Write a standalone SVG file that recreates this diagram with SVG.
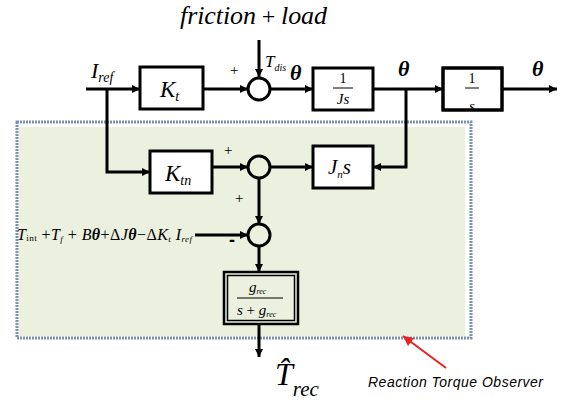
<svg xmlns="http://www.w3.org/2000/svg" width="564" height="400" viewBox="0 0 564 400">
<defs>
<marker id="ah" viewBox="0 0 10 10" refX="10" refY="5" markerWidth="10" markerHeight="8" markerUnits="userSpaceOnUse" orient="auto">
<path d="M0,0 L10,5 L0,10 z" fill="#000"/>
</marker>
<marker id="ahr" viewBox="0 0 10 10" refX="10" refY="5" markerWidth="12" markerHeight="10" markerUnits="userSpaceOnUse" orient="auto">
<path d="M0,0 L10,5 L0,10 z" fill="#e8231e"/>
</marker>
<clipPath id="c1s"><rect x="443" y="68" width="59" height="41"/></clipPath>
</defs>
<style>
.blk{fill:#fff;stroke:#000;stroke-width:3}
.sum{fill:none;stroke:#000;stroke-width:3}
.ln{fill:none;stroke:#000;stroke-width:3}
text{font-family:'Liberation Serif','Times New Roman',serif;fill:#000}
.m{font-style:italic}
.sg{font-family:'Liberation Sans',Arial,sans-serif}
</style>
<rect width="564" height="400" fill="#fff"/>
<g id="observer-region">
<rect x="19" y="127" width="446" height="209" fill="#ebf1de"/>
<rect x="17" y="122" width="454" height="216" fill="none" stroke="#7b91b1" stroke-width="3" stroke-dasharray="2 1"/>
</g>
<g id="title"><text class="m" x="180" y="24" font-size="26" textLength="147">friction<tspan font-style="normal" font-size="24"> + </tspan>load</text></g>
<g id="connectors">
<path class="ln" d="M86,89 H140" marker-end="url(#ah)"/>
<path class="ln" d="M203,89 H248" marker-end="url(#ah)"/>
<path class="ln" d="M259,40 V77" marker-end="url(#ah)"/>
<path class="ln" d="M270,89 H313" marker-end="url(#ah)"/>
<path class="ln" d="M373,89 H443" marker-end="url(#ah)"/>
<path class="ln" d="M502,89 H557" marker-end="url(#ah)"/>
<path class="ln" d="M406,89 V167 H373" marker-end="url(#ah)"/>
<path class="ln" d="M107,89 V172 H150" marker-end="url(#ah)"/>
<path class="ln" d="M212,167 H248" marker-end="url(#ah)"/>
<path class="ln" d="M270,167 H313" marker-end="url(#ah)"/>
<path class="ln" d="M259,178 V224" marker-end="url(#ah)"/>
<path class="ln" d="M195,235 H248" marker-end="url(#ah)"/>
<path class="ln" d="M259,246 V272" marker-end="url(#ah)"/>
<path class="ln" d="M259,324 V357" marker-end="url(#ah)"/>
<path d="M446,368 L403,336" stroke="#e8231e" stroke-width="2" fill="none" marker-end="url(#ahr)"/>
</g>
<g id="labels">
<text class="m" x="91" y="78" font-size="22">I<tspan font-size="14" dy="4">ref</tspan></text>
<text x="230" y="75" font-size="15">+</text>
<text class="m" x="265" y="67" font-size="17">T<tspan font-size="10" dy="4">dis</tspan></text>
<text class="m" x="290" y="80" font-size="22" font-weight="bold">θ</text>
<text class="m" x="398" y="76" font-size="22" font-weight="bold">θ</text>
<text class="m" x="532" y="76" font-size="22" font-weight="bold">θ</text>
<text x="224" y="155" font-size="15">+</text>
<text x="235" y="203" font-size="15">+</text>
<text class="sg" x="229" y="246" font-size="18" font-weight="bold">-</text>
<text class="m" x="17" y="240" font-size="16" textLength="175">T<tspan font-size="9" dy="1" font-style="normal">int</tspan><tspan dy="-1" font-style="normal"> +</tspan>T<tspan font-size="9" dy="2">f</tspan><tspan dy="-2" font-style="normal"> + </tspan>B<tspan font-weight="bold">θ</tspan><tspan font-style="normal">+Δ</tspan>J<tspan font-weight="bold">θ</tspan><tspan font-style="normal">−Δ</tspan>K<tspan font-size="9" dy="2">t</tspan><tspan dy="-2"> I</tspan><tspan font-size="9" dy="2">ref</tspan></text>
<text class="m" x="275" y="385" font-size="32">T&#x302;<tspan font-size="21" dy="11">rec</tspan></text>
<text class="sg" x="368" y="387" font-size="14" font-style="italic" textLength="175" fill="#222">Reaction Torque Observer</text>
</g>
<g id="Kt">
<rect class="blk" x="140" y="67" width="63" height="42"/>
<text class="m" x="160" y="97" font-size="23">K<tspan font-size="14" dy="4">t</tspan></text>
</g>
<g id="sum1"><circle class="sum" cx="259" cy="89" r="11" fill="#fff"/></g>
<g id="inv-Js">
<rect class="blk" x="313" y="68" width="60" height="42"/>
<text x="343" y="83" font-size="14" text-anchor="middle">1</text>
<line x1="333" y1="88" x2="353" y2="88" stroke="#000" stroke-width="1"/>
<text class="m" x="343" y="104" font-size="15" text-anchor="middle">Js</text>
</g>
<g id="inv-s">
<rect class="blk" x="443" y="68" width="59" height="42"/>
<text x="472" y="83" font-size="14" text-anchor="middle">1</text>
<line x1="465" y1="88" x2="479" y2="88" stroke="#000" stroke-width="1"/>
<text class="m" x="472" y="111" font-size="15" text-anchor="middle" clip-path="url(#c1s)">s</text>
<rect x="443" y="68" width="59" height="42" fill="none" stroke="#000" stroke-width="3"/>
</g>
<g id="Ktn">
<rect class="blk" x="150" y="151" width="62" height="42" fill="#ebf1de"/>
<text class="m" x="165" y="181" font-size="23">K<tspan font-size="14" dy="4">tn</tspan></text>
</g>
<g id="sum2"><circle class="sum" cx="259" cy="167" r="11"/></g>
<g id="Jns">
<rect class="blk" x="313" y="146" width="60" height="42" fill="#ebf1de"/>
<text class="m" x="328" y="174" font-size="21">J<tspan font-size="11" dy="4">n</tspan><tspan dy="-4">s</tspan></text>
</g>
<g id="sum3"><circle class="sum" cx="259" cy="235" r="11"/></g>
<g id="filter">
<rect x="224" y="272" width="74" height="52" fill="#ebf1de" stroke="#000" stroke-width="2.5"/>
<rect x="227.5" y="275.5" width="67" height="45" fill="none" stroke="#000" stroke-width="1.5"/>
<text class="m" x="249" y="292" font-size="15">g<tspan font-size="8" dy="2">rec</tspan></text>
<line x1="237" y1="298" x2="283" y2="298" stroke="#000" stroke-width="1"/>
<text class="m" x="237" y="315" font-size="15">s<tspan font-style="normal"> + </tspan>g<tspan font-size="8" dy="2">rec</tspan></text>
</g>
</svg>
